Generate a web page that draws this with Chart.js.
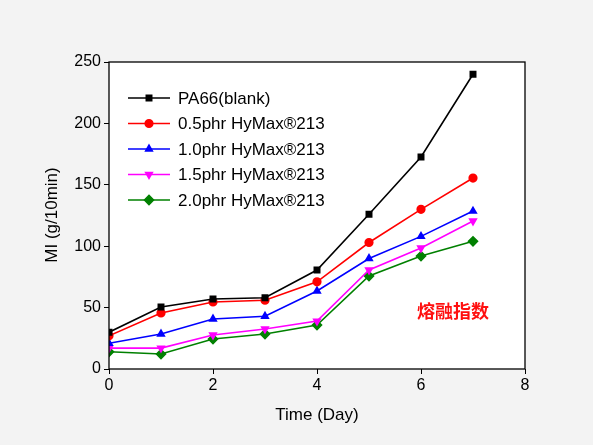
<!DOCTYPE html>
<html><head><meta charset="utf-8">
<script src="https://cdn.jsdelivr.net/npm/chart.js@4"></script>
<style>html,body{margin:0;padding:0;background:#f3f3f3;}#c{display:block;}</style>
</head><body>
<canvas id="c" width="593" height="445"></canvas>
<script>
const days = [0,1,2,3,4,5,6,7];
const seriesNames = ['PA66(blank)','0.5phr HyMax®213','1.0phr HyMax®213','1.5phr HyMax®213','2.0phr HyMax®213'];
const pa66 = [30,50.5,57,58,80.6,126,172.6,240];
const phr05 = [27,45.6,54.6,56,71,103,130,155.5];
const phr10 = [21,28.5,40.7,43,63.5,90,108,128.6];
const phr15 = [17,17,27.7,32.6,39,80.6,98.5,120.5];
const phr20 = [14,12.2,24.4,28.5,35.8,75.7,92,104];
const colors = ['#000000','#ff0000','#0000ff','#ff00ff','#008000'];
const markers = ['rect','circle','triangle','triangle','rectRot'];
const rots = [0,0,0,180,0];
const all = [pa66,phr05,phr10,phr15,phr20];
const FONT = 'Liberation Sans, Arial, sans-serif';
const datasets = all.map((d,i)=>({label:seriesNames[i],data:days.map((x,j)=>({x,y:d[j]})),
 borderColor:colors[i],backgroundColor:colors[i],borderWidth:1.6,pointStyle:markers[i],
 pointRotation:rots[i],pointRadius:i==4?4.5:3.8,tension:0}));
const deco = {id:'deco',
 beforeDraw(c){const {ctx,chartArea:a}=c;ctx.save();ctx.fillStyle='#fff';ctx.fillRect(a.left,a.top,a.right-a.left,a.bottom-a.top);ctx.restore();},
 afterDraw(c){const {ctx,chartArea:a}=c;ctx.save();ctx.strokeStyle='#000';ctx.lineWidth=1.3;
  ctx.strokeRect(a.left,a.top,a.right-a.left,a.bottom-a.top);
  ctx.font='17px '+FONT;ctx.textBaseline='middle';
  datasets.forEach((d,i)=>{const y=98+i*25.5;ctx.strokeStyle=d.borderColor;ctx.lineWidth=1.6;
   ctx.beginPath();ctx.moveTo(128,y);ctx.lineTo(170,y);ctx.stroke();
   ctx.fillStyle=d.borderColor;
   Chart.helpers.drawPoint(ctx,{pointStyle:d.pointStyle,rotation:d.pointRotation,radius:d.pointRadius,borderWidth:1},149,y);
   ctx.fillStyle='#000';ctx.fillText(d.label,178,y+1);});
  ctx.textAlign='center';ctx.fillText('Time (Day)',317,415);
  ctx.save();ctx.translate(52,215);ctx.rotate(-Math.PI/2);ctx.fillText('MI (g/10min)',0,0);ctx.restore();
  ctx.fillStyle='#ff1010';ctx.font='bold 18px "Noto Sans CJK SC"';
  ctx.fillText('熔融指数',453,311);
  ctx.restore();}};
new Chart(document.getElementById('c'),{type:'line',data:{datasets},
 options:{responsive:false,animation:false,
  layout:{padding:{top:62,right:68,left:0,bottom:0}},
  plugins:{legend:{display:false},tooltip:{enabled:false}},
  scales:{
   x:{type:'linear',min:0,max:8,grid:{drawOnChartArea:false,tickLength:5,color:'#000',tickColor:'#000'},border:{display:false},
    ticks:{stepSize:2,color:'#000',font:{size:16,family:FONT},padding:2},
    afterFit(s){s.height=76;}},
   y:{min:0,max:250,grid:{drawOnChartArea:false,tickLength:5,color:'#000',tickColor:'#000'},border:{display:false},
    ticks:{stepSize:50,color:'#000',font:{size:16,family:FONT},padding:3},
    afterFit(s){s.width=109;}}}},
 plugins:[deco]});
</script></body></html>
